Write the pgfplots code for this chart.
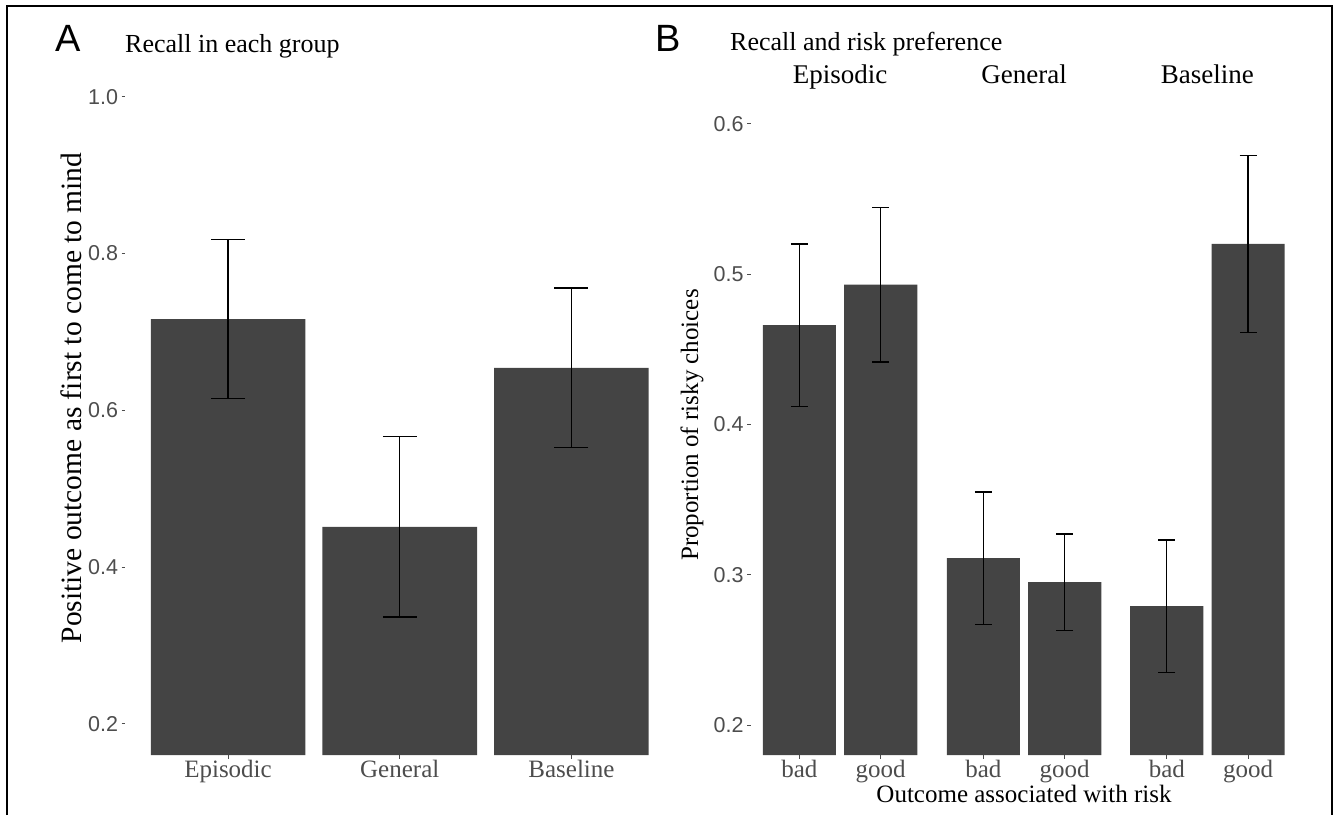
\documentclass[border=0pt]{standalone}
\usepackage{fontspec}
\setmainfont{Liberation Serif}
\newfontfamily\arial{Liberation Sans}
\usepackage{pgfplots}
\pgfplotsset{compat=1.18}
\definecolor{barfill}{HTML}{444444}
\definecolor{tickgrey}{HTML}{4D4D4D}
\newcommand{\tickfont}{\arial\fontsize{21.5}{24}\selectfont}
\newcommand{\serifticks}{\fontsize{25}{28}\selectfont}
\newcommand{\titlefont}{\fontsize{25}{28}\selectfont}
\newcommand{\stripfont}{\fontsize{27}{30}\selectfont}
\pgfplotsset{
  gg/.style={
    scale only axis,
    anchor=south west,
    axis x line*=bottom,
    axis y line*=left,
    axis line style={draw=none},
    tick align=outside,
    major tick length=3.5pt,
    tick style={color=tickgrey, line width=0.8pt},
    xtick pos=left, ytick pos=left,
    xticklabel style={font=\serifticks, text=tickgrey, anchor=base, yshift=-19pt},
    yticklabel style={font=\tickfont, text=tickgrey, anchor=east},
    clip mode=individual,
  },
  bars/.style={
    ybar, bar width=0.9, fill=barfill, draw=none,
    error bars/.cd, y dir=both, y explicit,
    error bar style={black, line width=1.3pt},
    error mark options={rotate=90, black, line width=1.3pt, mark size=#1},
  },
}
\begin{document}
\begin{tikzpicture}[x=1pt,y=1pt]
\useasboundingbox (0,0) rectangle (1335,815);
% frame
\draw[line width=2.5pt] (7,0) -- (7,809) -- (1332,809) -- (1332,0);

% ---------- Panel A ----------
\begin{axis}[gg,
  at={(125pt,60pt)},
  width=549.5pt, height=689.7pt,
  xmin=0.4, xmax=3.6, ymin=0.16, ymax=1.04,
  xtick={1,2,3}, xticklabels={Episodic,General,Baseline},
  ytick={0.2,0.4,0.6,0.8,1.0}, yticklabels={0.2,0.4,0.6,0.8,1.0},
]
\addplot[bars=17pt] coordinates {
  (1,0.716) +- (0,0.1015)
  (2,0.451) +- (0,0.115)
  (3,0.654) +- (0,0.102)
};
\end{axis}

% ---------- Panel B facets ----------
\begin{axis}[gg,
  at={(750.6pt,60pt)},
  width=178.9pt, height=661.3pt,
  xmin=0.4, xmax=2.6, ymin=0.18, ymax=0.62,
  xtick={1,2}, xticklabels={bad,good},
  ytick={0.2,0.3,0.4,0.5,0.6}, yticklabels={0.2,0.3,0.4,0.5,0.6},
]
\addplot[bars=8.5pt] coordinates {
  (1,0.466) +- (0,0.054)
  (2,0.493) +- (0,0.0515)
};
\node[font=\stripfont, anchor=base] at (rel axis cs:0.5,1) [yshift=10pt] {Episodic};
\end{axis}

\begin{axis}[gg,
  at={(934.6pt,60pt)},
  width=178.9pt, height=661.3pt,
  xmin=0.4, xmax=2.6, ymin=0.18, ymax=0.62,
  xtick={1,2}, xticklabels={bad,good},
  ytick=\empty,
]
\addplot[bars=8.5pt] coordinates {
  (1,0.311) +- (0,0.044)
  (2,0.295) +- (0,0.032)
};
\node[font=\stripfont, anchor=base] at (rel axis cs:0.5,1) [yshift=10pt] {General};
\end{axis}

\begin{axis}[gg,
  at={(1118pt,60pt)},
  width=178.9pt, height=661.3pt,
  xmin=0.4, xmax=2.6, ymin=0.18, ymax=0.62,
  xtick={1,2}, xticklabels={bad,good},
  ytick=\empty,
]
\addplot[bars=8.5pt] coordinates {
  (1,0.279) +- (0,0.044)
  (2,0.520) +- (0,0.059)
};
\node[font=\stripfont, anchor=base] at (rel axis cs:0.5,1) [yshift=10pt] {Baseline};
\end{axis}

% ---------- titles and labels ----------
\node[font=\arial\fontsize{38}{40}\selectfont, anchor=base west, inner sep=0pt] at (55,763) {A};
\node[font=\fontsize{26}{30}\selectfont, anchor=base west, inner sep=0pt] at (125,762) {Recall in each group};
\node[font=\arial\fontsize{38}{40}\selectfont, anchor=base west, inner sep=0pt] at (655,763) {B};
\node[font=\fontsize{26}{30}\selectfont, anchor=base west, inner sep=0pt] at (730,764) {Recall and risk preference};
\node[font=\fontsize{29.5}{32}\selectfont, rotate=90] at (71,417) {Positive outcome as first to come to mind};
\node[font=\titlefont, rotate=90] at (692,390) {Proportion of risky choices};
\node[font=\titlefont, anchor=base] at (1024,13) {Outcome associated with risk};
\end{tikzpicture}
\end{document}
